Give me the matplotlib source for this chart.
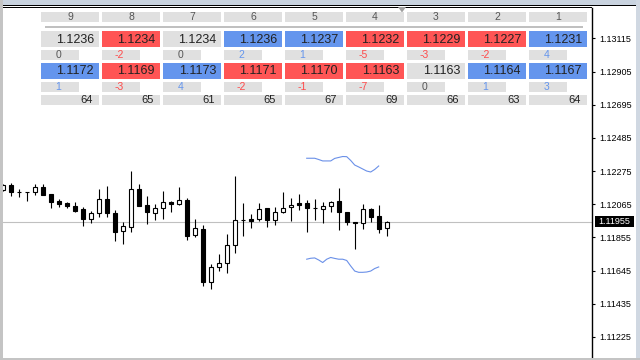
import matplotlib
matplotlib.use("Agg")
import matplotlib.pyplot as plt
import matplotlib.transforms as mtransforms
from matplotlib.patches import Rectangle, Polygon
from matplotlib.ticker import FormatStrFormatter
import numpy as np

plt.rcParams['font.family'] = ['Liberation Sans', 'DejaVu Sans']

# candles (EURUSD style), oldest -> newest
opens = [1.12155, 1.12187, 1.12141, 1.12141, 1.12144, 1.12172, 1.12130, 1.12087, 1.12075, 1.12054,
         1.12035, 1.11970, 1.12008, 1.12096, 1.12010, 1.11894, 1.11923, 1.12160, 1.12060, 1.12008,
         1.12039, 1.12079, 1.12065, 1.12090, 1.11868, 1.11906, 1.11573, 1.11666, 1.11691, 1.11805,
         1.11963, 1.11972, 1.11970, 1.12039, 1.11963, 1.12014, 1.12046, 1.12073, 1.12073, 1.12039,
         1.12033, 1.12052, 1.12084, 1.12014, 1.11953, 1.11944, 1.12033, 1.11989, 1.11913]
highs = [1.12193, 1.12198, 1.12160, 1.12142, 1.12193, 1.12193, 1.12131, 1.12098, 1.12079, 1.12077,
         1.12046, 1.12022, 1.12161, 1.12180, 1.12029, 1.11951, 1.12275, 1.12193, 1.12117, 1.12067,
         1.12149, 1.12084, 1.12174, 1.12106, 1.11972, 1.11932, 1.11685, 1.11750, 1.11877, 1.12244,
         1.12073, 1.12003, 1.12073, 1.12040, 1.12046, 1.12142, 1.12104, 1.12130, 1.12092, 1.12098,
         1.12081, 1.12084, 1.12168, 1.12015, 1.11954, 1.12068, 1.12039, 1.12060, 1.11956]
lows = [1.12149, 1.12119, 1.12109, 1.12087, 1.12125, 1.12122, 1.12043, 1.12049, 1.12043, 1.12018,
        1.11929, 1.11948, 1.11986, 1.11986, 1.11834, 1.11815, 1.11891, 1.12052, 1.11942, 1.11967,
        1.11973, 1.12014, 1.12058, 1.11840, 1.11860, 1.11547, 1.11527, 1.11644, 1.11632, 1.11758,
        1.11864, 1.11915, 1.11959, 1.11923, 1.11935, 1.12008, 1.11959, 1.12030, 1.11891, 1.11965,
        1.11948, 1.12014, 1.11904, 1.11935, 1.11784, 1.11910, 1.11953, 1.11885, 1.11866]
closes = [1.12187, 1.12141, 1.12141, 1.12141, 1.12172, 1.12125, 1.12081, 1.12068, 1.12052, 1.12024,
          1.11970, 1.12010, 1.12096, 1.12008, 1.11887, 1.11925, 1.12160, 1.12056, 1.12014, 1.12039,
          1.12077, 1.12065, 1.12090, 1.11866, 1.11913, 1.11571, 1.11666, 1.11691, 1.11805, 1.11963,
          1.11963, 1.11959, 1.12033, 1.11963, 1.12014, 1.12039, 1.12060, 1.12062, 1.12043, 1.12039,
          1.12052, 1.12077, 1.12014, 1.11951, 1.11944, 1.12033, 1.11982, 1.11910, 1.11955]

# blue band lines (start bar, half bar step)
band_start = 38
band_step = 0.5
band_upper = [1.12356, 1.12356, 1.12356, 1.12348, 1.12339, 1.12339, 1.12339, 1.12355, 1.12361, 1.12367,
              1.12366, 1.12342, 1.12313, 1.12301, 1.12288, 1.12275, 1.12269, 1.12285, 1.12307]
band_lower = [1.11717, 1.11723, 1.11725, 1.11712, 1.11696, 1.11717, 1.11728, 1.11722, 1.11717, 1.11717,
              1.11709, 1.11674, 1.11642, 1.11634, 1.11634, 1.11636, 1.11642, 1.11658, 1.11668]

price_ticks = [1.13115, 1.12905, 1.12695, 1.12485, 1.12275, 1.12065, 1.11855, 1.11645, 1.11435, 1.11225]

# table on top
periods = [9, 8, 7, 6, 5, 4, 3, 2, 1]
high_vals = [1.1236, 1.1234, 1.1234, 1.1236, 1.1237, 1.1232, 1.1229, 1.1227, 1.1231]
high_diff = [0, -2, 0, 2, 1, -5, -3, -2, 4]
low_vals = [1.1172, 1.1169, 1.1173, 1.1171, 1.1170, 1.1163, 1.1163, 1.1164, 1.1167]
low_diff = [1, -3, 4, -2, -1, -7, 0, 1, 3]
counts = [64, 65, 61, 65, 67, 69, 66, 63, 64]

W, H = 640, 360
fig = plt.figure(figsize=(6.4, 3.6), dpi=100)
fig.patch.set_facecolor('white')

# chart area : px x 3..592, y 8..357
ax = fig.add_axes([3 / W, 3 / H, 589 / W, 349 / H])
ax.set_facecolor('white')
ax.set_xlim(0.0375, 0.0375 + 589 / 8)
ax.set_ylim(1.11098, 1.13307)

x = np.arange(len(opens))
o = np.array(opens)
c = np.array(closes)
body_col = ['white' if cc > oo else 'black' for oo, cc in zip(o, c)]

ax.axhline(closes[-1], color='#c0c0c0', lw=0.8, zorder=1)
ax.vlines(x, lows, highs, color='black', lw=0.8, zorder=2)
ax.bar(x, np.abs(c - o), bottom=np.minimum(o, c), width=0.5, color=body_col,
       edgecolor='black', linewidth=0.8, zorder=3)

bx = band_start + band_step * np.arange(len(band_upper))
ax.plot(bx, band_upper, color='#6a90e8', lw=0.8, zorder=2)
ax.plot(bx, band_lower, color='#6a90e8', lw=0.8, zorder=2)

for s in ['left', 'top', 'bottom']:
    ax.spines[s].set_visible(False)
ax.spines['right'].set_color('black')
ax.spines['right'].set_linewidth(1.0)
ax.set_xticks([])
ax.yaxis.tick_right()
ax.set_yticks(price_ticks)
ax.yaxis.set_major_formatter(FormatStrFormatter('%.5f'))
ax.tick_params(axis='y', length=2.5, width=0.8, pad=2.5, labelsize=6.5, colors='black')

# current price box
blend = mtransforms.blended_transform_factory(ax.transAxes, ax.transData)
ax.add_patch(Rectangle((1.0051, closes[-1] - 0.00035), 39 / 589, 0.0007,
                       transform=blend, facecolor='black', edgecolor='none', clip_on=False, zorder=5))
ax.text(1.0051 + 3 / 589, closes[-1], "%.5f" % closes[-1], transform=blend, color='white',
        fontsize=6.5, ha='left', va='center', zorder=6, clip_on=False)

# overlay in pixel coords for frame and table
ov = fig.add_axes([0, 0, 1, 1])
ov.set_xlim(0, W)
ov.set_ylim(H, 0)
ov.axis('off')

ov.add_patch(Rectangle((0, 0), W, 4.5, facecolor='#c9d3df', edgecolor='none'))
ov.add_patch(Rectangle((0, 0), 3, H, facecolor='#c4c4c4', edgecolor='none'))
ov.add_patch(Rectangle((636, 0), 4, H, facecolor='#d0d8e2', edgecolor='none'))
ov.add_patch(Rectangle((0, 357.5), W, 2.5, facecolor='#c4c4c4', edgecolor='none'))
ov.add_patch(Rectangle((3, 5), 633, 1, facecolor='black', edgecolor='none'))
ov.add_patch(Rectangle((3, 7), 589, 1, facecolor='black', edgecolor='none'))
ov.add_patch(Polygon([(398, 7), (406, 7), (402, 12.5)], closed=True, facecolor='#a0a0a0', edgecolor='none'))

GRAY = '#e0e0e0'
RED = '#ff5555'
BLUE = '#6495ed'


def cell_color(d):
    if d > 0:
        return BLUE
    if d < 0:
        return RED
    return GRAY


def text_color(d):
    if d > 0:
        return BLUE
    if d < 0:
        return '#ff4a4a'
    return '#555555'


ov.add_patch(Rectangle((45, 26), 538, 2, facecolor='#c0c0c0', edgecolor='none'))

for j in range(len(periods)):
    left = 41 + 61 * j
    # header
    ov.add_patch(Rectangle((left, 12), 58, 10, facecolor=GRAY, edgecolor='none'))
    ov.text(left + 29, 17.2, str(periods[j]), fontsize=7.5, color='#555555', ha='center', va='center')
    # highs
    ov.add_patch(Rectangle((left, 31), 58, 16, facecolor=cell_color(high_diff[j]), edgecolor='none'))
    ov.text(left + 53, 39.8, "%.4f" % high_vals[j], fontsize=9, color='#222222', ha='right', va='center')
    ov.add_patch(Rectangle((left, 50), 38, 9.5, facecolor=GRAY, edgecolor='none'))
    ov.text(left + 17.5, 55, str(high_diff[j]), fontsize=7.5, color=text_color(high_diff[j]),
            ha='center', va='center')
    # lows
    ov.add_patch(Rectangle((left, 62.5), 58, 16.5, facecolor=cell_color(low_diff[j]), edgecolor='none'))
    ov.text(left + 53, 71, "%.4f" % low_vals[j], fontsize=9, color='#222222', ha='right', va='center')
    ov.add_patch(Rectangle((left, 81.5), 38, 10, facecolor=GRAY, edgecolor='none'))
    ov.text(left + 17.5, 86.8, str(low_diff[j]), fontsize=7.5, color=text_color(low_diff[j]),
            ha='center', va='center')
    # counts
    ov.add_patch(Rectangle((left, 95), 58, 10, facecolor=GRAY, edgecolor='none'))
    ov.text(left + 52, 100, str(counts[j]), fontsize=8, color='#222222', ha='right', va='center')

fig.savefig('out.png', dpi=100)
